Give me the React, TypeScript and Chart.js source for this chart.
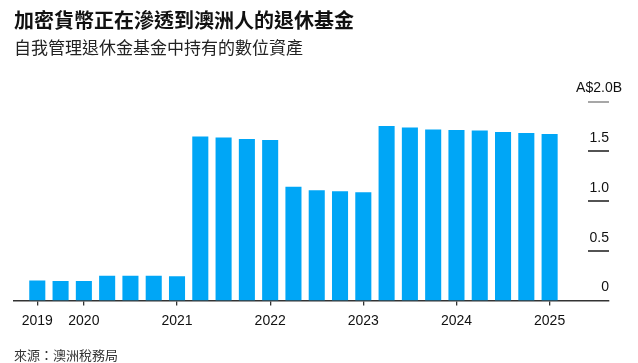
import { useEffect, useRef } from 'react';
import { Chart, registerables } from 'chart.js';

Chart.register(...registerables);

const titleText = '加密貨幣正在滲透到澳洲人的退休基金';
const subtitleText = '自我管理退休金基金中持有的數位資產';
const sourceText = '來源：澳洲稅務局';

const periods = [
  '2019-06', '2019-12',
  '2020-03', '2020-06', '2020-09', '2020-12',
  '2021-03', '2021-06', '2021-09', '2021-12',
  '2022-03', '2022-06', '2022-09', '2022-12',
  '2023-03', '2023-06', '2023-09', '2023-12',
  '2024-03', '2024-06', '2024-09', '2024-12',
  '2025-03',
];

// A$ billions
const holdings = [
  0.2, 0.195,
  0.195, 0.25, 0.25, 0.25,
  0.245, 1.65, 1.64, 1.625,
  1.615, 1.145, 1.11, 1.1,
  1.09, 1.755, 1.74, 1.72,
  1.715, 1.71, 1.695, 1.685,
  1.675,
];

const yTickValues = [0, 0.5, 1.0, 1.5, 2.0];
const yTopLabel = 'A$2.0B';

const yearTickIndices = periods
  .map((p, i) => (i === 0 || p.slice(0, 4) !== periods[i - 1].slice(0, 4) ? i : -1))
  .filter((i) => i >= 0);

const latinFont = '"Liberation Sans", Arial, sans-serif';
const cjkFont = '"Noto Sans CJK TC", "Noto Sans CJK SC", sans-serif';

const tickSegments = {
  id: 'tickSegments',
  afterDraw(chart: any) {
    const { ctx, chartArea, scales } = chart;
    const y = scales.y;
    ctx.save();
    ctx.lineWidth = 1.5;
    y.ticks.forEach((t: any) => {
      if (t.value === 0) return;
      const py = Math.round(y.getPixelForValue(t.value));
      ctx.strokeStyle = t.value === y.max ? '#8a8a8a' : '#1a1a1a';
      ctx.beginPath();
      ctx.moveTo(chartArea.right - 21, py);
      ctx.lineTo(chartArea.right, py);
      ctx.stroke();
    });
    ctx.restore();
  },
};

export default function App() {
  const ref = useRef<HTMLCanvasElement>(null);

  useEffect(() => {
    if (!ref.current) return;
    const chart = new Chart(ref.current, {
      type: 'bar',
      data: {
        datasets: [
          {
            data: holdings.map((v, i) => ({ x: i, y: v })),
            backgroundColor: '#00a6f6',
            borderWidth: 0,
            barPercentage: 0.69,
            categoryPercentage: 1,
          },
        ],
      },
      plugins: [tickSegments],
      options: {
        animation: false,
        responsive: true,
        maintainAspectRatio: false,
        layout: { padding: { left: 14, right: 29, top: 0, bottom: 0 } },
        plugins: {
          legend: { display: false },
          tooltip: { enabled: false },
          title: {
            display: true,
            text: titleText,
            align: 'start',
            color: '#111',
            font: { family: cjkFont, size: 20, weight: 'bold', lineHeight: 1.2 },
            padding: { top: 8, bottom: 0 },
          },
          subtitle: {
            display: true,
            text: subtitleText,
            align: 'start',
            color: '#222',
            font: { family: cjkFont, size: 17, weight: 'normal', lineHeight: 1.2 },
            padding: { top: 5, bottom: 44.3 },
          },
        },
        scales: {
          x: {
            type: 'linear',
            min: -1,
            max: 24.55,
            offset: false,
            afterBuildTicks: (scale: any) => {
              scale.ticks = yearTickIndices.map((v) => ({ value: v }));
            },
            ticks: {
              autoSkip: false,
              maxRotation: 0,
              padding: 7,
              color: '#111',
              font: { family: latinFont, size: 14 },
              callback: (value: any) => periods[Number(value)]?.slice(0, 4) ?? '',
            },
            grid: {
              offset: false,
              drawOnChartArea: false,
              drawTicks: true,
              tickLength: 5,
              lineWidth: 1.3,
              color: '#333',
            },
            border: { display: true, color: '#333', width: 1.5 },
            title: {
              display: true,
              text: sourceText,
              align: 'start',
              color: '#333',
              font: { family: cjkFont, size: 13, lineHeight: 1.2 },
              padding: { top: 11.1, bottom: 0 },
            },
          },
          y: {
            type: 'linear',
            position: 'right',
            min: 0,
            max: 2.0,
            afterBuildTicks: (scale: any) => {
              scale.ticks = yTickValues.map((v) => ({ value: v }));
            },
            afterFit: (scale: any) => {
              scale.width = 0;
            },
            ticks: {
              mirror: true,
              padding: 0,
              labelOffset: -13,
              color: '#111',
              font: { family: latinFont, size: 14 },
              callback: (value: any) => (Number(value) === 2.0 ? '' : String(value === 0 ? '0' : Number(value).toFixed(1))),
            },
            grid: { display: false, drawTicks: false },
            border: { display: false },
          },
          yUnit: {
            type: 'linear',
            position: 'right',
            min: 0,
            max: 2.0,
            afterBuildTicks: (scale: any) => {
              scale.ticks = yTickValues.map((v) => ({ value: v }));
            },
            afterFit: (scale: any) => {
              scale.width = 0;
            },
            ticks: {
              mirror: true,
              padding: 13,
              labelOffset: -14,
              color: '#111',
              font: { family: latinFont, size: 14 },
              callback: (value: any) => (Number(value) === 2.0 ? yTopLabel : ''),
            },
            grid: { display: false, drawTicks: false },
            border: { display: false },
          },
        },
      },
    } as any);
    return () => chart.destroy();
  }, []);

  return (
    <div style={{ position: 'fixed', left: 0, top: 0, width: 638, height: 363, background: '#fff' }}>
      <canvas ref={ref} />
    </div>
  );
}
